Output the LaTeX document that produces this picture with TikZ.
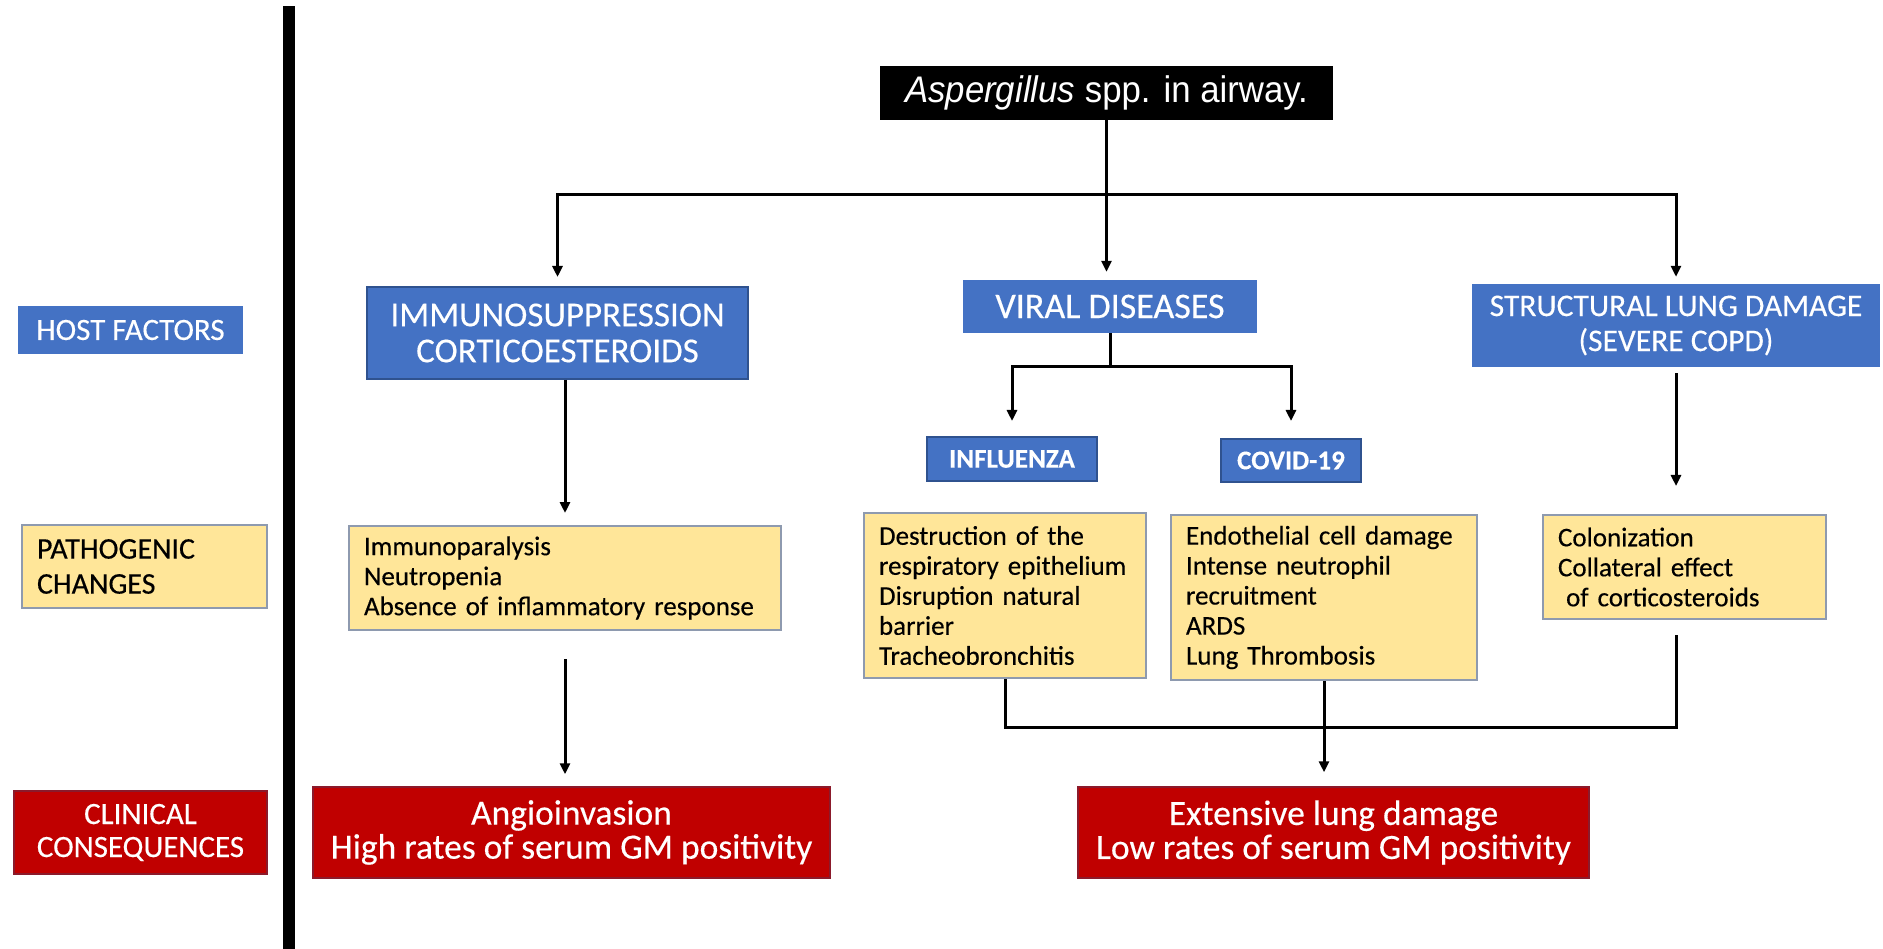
\documentclass[tikz,border=0pt]{standalone}
\usepackage{fontspec}
\setmainfont{Carlito}[FakeBold=0.35]
\newfontfamily\arialfont{Liberation Sans}[FakeStretch=0.94]
\usetikzlibrary{arrows.meta,positioning,calc}
\definecolor{hostblue}{HTML}{4472C4}
\definecolor{blueedge}{HTML}{2F528F}
\definecolor{changefill}{HTML}{FFE699}
\definecolor{changeedge}{HTML}{8E9AAF}
\definecolor{outcomered}{HTML}{C00000}
\definecolor{outcomeedge}{HTML}{8B1A2B}

\begin{document}
\begin{tikzpicture}[x=1pt, y=-1pt,
                factor/.style={rectangle, fill=hostblue, text=white, align=center, inner sep=0pt},
                change/.style={rectangle, draw=changeedge, line width=2pt, fill=changefill, align=left, inner sep=0pt, inner xsep=15pt, font=\fontsize{27}{30}\selectfont},
                outcome/.style={rectangle, draw=outcomeedge, line width=1.5pt, fill=outcomered, text=white, align=center, inner sep=0pt, font=\fontsize{35.5}{34}\selectfont},
                link/.style={line width=3pt, black},
                flow/.style={link, -{Triangle[length=11pt, width=10pt]}},
                twoway/.style={link, {Triangle[length=11pt, width=10pt]}-{Triangle[length=11pt, width=10pt]}},
            ]
            \useasboundingbox (0,0) rectangle (1883,949);

            % row labels
            \node[factor, minimum width=225pt, minimum height=48pt, font=\fontsize{31}{35}\selectfont] (hostlbl) at (130.5,330) {HOST FACTORS};
            \node[change, minimum width=245pt, minimum height=83pt, text width=215pt, font=\fontsize{30}{35}\selectfont] (pathlbl) at (144.5,566.5) {PATHOGENIC\\CHANGES};
            \node[outcome, minimum width=253pt, minimum height=83pt, font=\fontsize{31}{33}\selectfont] (cliniclbl) at (140.5,832.5) {CLINICAL\\CONSEQUENCES};
            \fill (283,6) rectangle (295,949);

            % host factors
            \node[fill=black, text=white, minimum width=453pt, minimum height=54pt, inner sep=0pt, font=\arialfont\fontsize{37}{40}\selectfont] (asp) at (1106.5,93) {\textit{Aspergillus} spp. in airway.};
            \node[factor, draw=blueedge, line width=2pt, minimum width=381pt, minimum height=92pt, font=\fontsize{35}{36}\selectfont] (immuno) at (557.5,333) {IMMUNOSUPPRESSION\\CORTICOESTEROIDS};
            \node[factor, minimum width=294pt, minimum height=53pt, font=\fontsize{36}{38}\selectfont] (viral) at (1110,306.5) {VIRAL DISEASES};
            \node[factor, minimum width=408pt, minimum height=83pt, font=\fontsize{31.5}{35}\selectfont] (struct) at (1676,325.5) {STRUCTURAL LUNG DAMAGE\\(SEVERE COPD)};
            \node[factor, draw=blueedge, line width=2pt, minimum width=170pt, minimum height=44pt, font=\bfseries\fontsize{27}{30}\selectfont] (influ) at (1012,459) {INFLUENZA};
            \node[factor, draw=blueedge, line width=2pt, minimum width=140pt, minimum height=43pt, font=\bfseries\fontsize{27}{30}\selectfont] (covid) at (1291,460.5) {COVID-19};

            % pathogenic changes
            \node[change, minimum width=432pt, minimum height=104pt, text width=402pt] (iyel) at (565,578) {Immunoparalysis\\Neutropenia\\Absence of inflammatory response};
            \node[change, minimum width=282pt, minimum height=165pt, text width=252pt] (fyel) at (1005,595.5) {Destruction of the\\respiratory epithelium\\Disruption natural\\barrier\\Tracheobronchitis};
            \node[change, minimum width=306pt, minimum height=165pt, text width=276pt] (cyel) at (1324,597.5) {Endothelial cell damage\\Intense neutrophil\\recruitment\\ARDS\\Lung Thrombosis};
            \node[change, minimum width=283pt, minimum height=104pt, text width=253pt] (syel) at (1684.5,567) {Colonization\\Collateral effect\\\hspace{0.3em}of corticosteroids};

            % clinical consequences
            \node[outcome, minimum width=517pt, minimum height=91pt] (redL) at (571.5,832.5) {Angioinvasion\\High rates of serum GM positivity};
            \node[outcome, minimum width=511pt, minimum height=91pt] (redR) at (1333.5,832.5) {Extensive lung damage\\Low rates of serum GM positivity};

            % connectors
            \coordinate (bus)  at (1107,195);
            \coordinate (vbus) at (1110,367);
            \coordinate (mbus) at (1324,727);
            \draw[flow, shorten >=8pt] (asp.south) -- (asp.south |- viral.north);
            \draw[twoway, shorten <=9pt, shorten >=7pt] (immuno.north) |- (bus) -| (struct.north);
            \draw[link] (viral.south) -- (viral.south |- vbus);
            \draw[twoway, shorten <=15pt, shorten >=17pt] (influ.north) |- (vbus) -| (covid.north);
            \draw[flow, shorten >=12pt] (iyel.north |- immuno.south) -- (iyel.north);
            \draw[flow, shorten <=6pt, shorten >=28pt] (struct.south) -- (struct.south |- syel.north);
            \draw[flow, shorten <=28pt, shorten >=12pt] (iyel.south) -- (iyel.south |- redL.north);
            \draw[link] (fyel.south) |- (mbus) -| ([yshift=-15pt]struct.south |- syel.south);
            \draw[flow, shorten >=14pt] (cyel.south) -- (cyel.south |- redR.north);
        \end{tikzpicture}
\end{document}
